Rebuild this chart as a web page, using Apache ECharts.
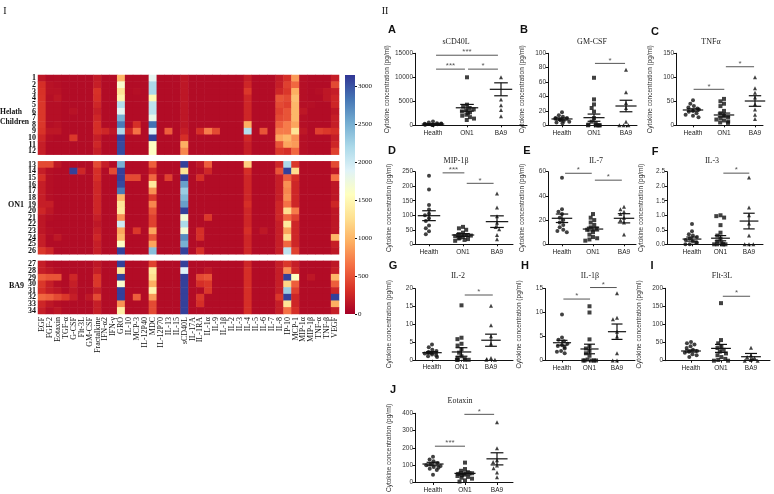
<!DOCTYPE html>
<html>
<head>
<meta charset="utf-8">
<script src="https://cdn.jsdelivr.net/npm/echarts@6.0.0/dist/echarts.min.js"></script>
<style>
  html, body { margin: 0; padding: 0; background: #fff; }
  #main { width: 774px; height: 494px; }
</style>
</head>
<body>
<div id="main"></div>
<script>
// ---- heatmap data ----
const cytokines = ['EGF', 'FGF-2', 'Eotaxin', 'TGF-α', 'G-CSF', 'Flt-3L', 'GM-CSF', 'Fractalkine', 'IFN-α2', 'IFN-γ',
  'GRO', 'IL-10', 'MCP-3', 'IL-12P40', 'MDC', 'IL-12P70', 'IL-13', 'IL-15', 'sCD40L', 'IL-17A',
  'IL-1RA', 'IL-1α', 'IL-9', 'IL-1β', 'IL-2', 'IL-3', 'IL-4', 'IL-5', 'IL-6', 'IL-7',
  'IL-8', 'IP-10', 'MCP-1', 'MIP-1α', 'MIP-1β', 'TNF-α', 'TNF-β', 'VEGF'];
const sampleIds = ['1', '2', '3', '4', '5', '6', '7', '8', '9', '10', '11', '12',
  '13', '14', '15', '16', '17', '18', '19', '20', '21', '22', '23', '24', '25', '26',
  '27', '28', '29', '30', '31', '32', '33', '34'];
const groupSizes = [12, 14, 8];
const heatRows = [
  [150, 80, 90, 80, 80, 80, 80, 180, 80, 80, 1000, 80, 80, 80, 1850, 80, 80, 80, 150, 80, 80, 80, 80, 80, 80, 80, 200, 80, 80, 80, 180, 300, 850, 100, 80, 80, 80, 200],
  [300, 120, 100, 80, 80, 80, 80, 200, 80, 80, 1650, 80, 80, 80, 2200, 80, 80, 80, 150, 80, 80, 80, 80, 80, 80, 80, 250, 80, 80, 80, 200, 400, 600, 100, 80, 80, 80, 450],
  [320, 120, 120, 80, 80, 80, 80, 320, 80, 80, 1300, 80, 100, 80, 2200, 80, 80, 80, 150, 80, 80, 80, 80, 80, 80, 80, 350, 80, 80, 80, 250, 350, 950, 100, 80, 100, 150, 200],
  [330, 100, 150, 80, 80, 80, 80, 300, 80, 80, 1450, 80, 80, 80, 1500, 80, 80, 80, 150, 80, 80, 80, 80, 80, 80, 80, 250, 80, 80, 80, 500, 450, 1050, 100, 80, 80, 150, 250],
  [350, 100, 100, 80, 80, 80, 80, 250, 80, 80, 2150, 80, 80, 80, 2100, 80, 80, 80, 150, 80, 80, 80, 80, 80, 80, 80, 250, 80, 80, 80, 450, 400, 1000, 100, 100, 80, 80, 250],
  [350, 100, 100, 80, 120, 80, 80, 200, 80, 80, 1850, 80, 80, 80, 2100, 80, 80, 80, 150, 80, 80, 80, 80, 80, 80, 80, 250, 80, 80, 80, 400, 500, 1000, 150, 80, 80, 80, 150],
  [350, 100, 100, 80, 80, 80, 80, 250, 80, 80, 2500, 80, 80, 80, 1800, 80, 80, 80, 150, 80, 80, 80, 80, 80, 80, 80, 250, 80, 80, 80, 450, 500, 1000, 100, 80, 80, 80, 200],
  [350, 100, 120, 80, 80, 80, 80, 300, 80, 80, 2800, 80, 300, 80, 2850, 80, 80, 80, 150, 80, 80, 80, 80, 80, 80, 80, 950, 80, 80, 80, 550, 700, 900, 100, 80, 80, 80, 200],
  [330, 150, 150, 80, 80, 80, 80, 300, 250, 150, 2200, 250, 650, 80, 1900, 80, 550, 80, 200, 80, 300, 700, 450, 80, 80, 80, 2150, 80, 500, 80, 700, 700, 1300, 150, 80, 400, 350, 300],
  [250, 100, 80, 80, 350, 80, 80, 200, 80, 80, 3100, 80, 80, 80, 3100, 80, 80, 80, 300, 80, 80, 80, 80, 80, 80, 80, 250, 80, 80, 80, 900, 1000, 800, 100, 80, 80, 80, 200],
  [200, 80, 80, 80, 80, 80, 80, 250, 80, 80, 3050, 80, 80, 80, 1600, 80, 80, 80, 950, 80, 80, 80, 80, 80, 80, 80, 200, 80, 80, 80, 500, 900, 850, 100, 80, 80, 80, 250],
  [200, 80, 80, 80, 80, 80, 80, 200, 80, 80, 3050, 80, 80, 80, 1600, 80, 80, 80, 750, 80, 80, 80, 80, 80, 80, 80, 200, 80, 80, 80, 350, 300, 600, 100, 80, 80, 80, 400],
  [450, 450, 150, 80, 80, 80, 80, 450, 200, 80, 2500, 80, 80, 80, 550, 80, 80, 80, 3100, 80, 150, 550, 80, 80, 80, 80, 1150, 80, 80, 80, 250, 2200, 350, 80, 80, 80, 80, 450],
  [200, 100, 80, 80, 3100, 250, 80, 300, 80, 450, 3100, 80, 80, 80, 250, 80, 80, 80, 1300, 80, 100, 250, 80, 80, 80, 80, 300, 80, 80, 80, 500, 3100, 1250, 80, 80, 80, 80, 150],
  [300, 100, 80, 80, 80, 80, 80, 300, 80, 80, 3100, 450, 450, 80, 600, 80, 400, 80, 3100, 80, 300, 80, 80, 80, 80, 80, 250, 80, 80, 80, 200, 550, 300, 80, 80, 80, 80, 650],
  [200, 100, 80, 80, 80, 80, 80, 250, 80, 80, 3050, 80, 80, 80, 1350, 80, 80, 80, 2600, 80, 80, 80, 80, 80, 80, 80, 250, 80, 80, 80, 200, 800, 250, 80, 80, 80, 80, 150],
  [200, 100, 80, 80, 80, 80, 80, 250, 80, 80, 2800, 80, 80, 80, 800, 80, 80, 80, 2300, 80, 80, 80, 80, 80, 80, 80, 250, 80, 80, 80, 200, 750, 250, 80, 80, 80, 80, 150],
  [200, 100, 80, 80, 80, 80, 80, 250, 80, 80, 1000, 80, 80, 80, 350, 80, 80, 80, 2450, 80, 80, 80, 80, 80, 80, 80, 250, 80, 80, 80, 200, 800, 250, 80, 80, 80, 80, 150],
  [200, 200, 80, 80, 80, 80, 80, 250, 80, 80, 1300, 80, 80, 80, 750, 80, 80, 80, 2600, 80, 80, 80, 80, 80, 80, 80, 300, 80, 80, 80, 250, 650, 250, 80, 80, 80, 80, 250],
  [250, 150, 80, 80, 80, 80, 80, 250, 80, 80, 1350, 80, 80, 80, 500, 80, 80, 80, 3100, 80, 80, 80, 80, 80, 80, 80, 250, 80, 80, 80, 250, 1250, 700, 80, 80, 80, 80, 150],
  [150, 100, 80, 80, 80, 80, 80, 200, 80, 80, 800, 80, 80, 80, 400, 80, 80, 80, 1700, 80, 80, 350, 80, 80, 80, 80, 250, 80, 80, 80, 250, 600, 400, 80, 80, 80, 80, 150],
  [150, 80, 80, 80, 80, 80, 80, 150, 80, 80, 2000, 80, 80, 80, 400, 80, 80, 80, 2200, 80, 80, 80, 80, 80, 80, 80, 250, 80, 80, 80, 200, 1350, 250, 80, 80, 80, 80, 150],
  [150, 100, 80, 80, 80, 80, 80, 200, 80, 80, 900, 80, 350, 80, 900, 80, 80, 80, 1700, 80, 300, 80, 80, 80, 80, 80, 300, 80, 150, 80, 200, 900, 250, 80, 80, 80, 80, 150],
  [200, 80, 150, 80, 80, 80, 80, 250, 80, 80, 1000, 80, 80, 80, 500, 80, 80, 80, 2700, 80, 300, 80, 80, 80, 80, 80, 250, 80, 80, 80, 200, 1250, 250, 80, 80, 80, 80, 1000],
  [200, 80, 80, 80, 80, 80, 80, 200, 80, 80, 1600, 80, 80, 80, 900, 80, 80, 80, 2500, 80, 80, 80, 80, 80, 80, 80, 250, 80, 80, 80, 200, 600, 250, 80, 80, 80, 80, 200],
  [350, 250, 80, 80, 80, 80, 80, 200, 80, 80, 3100, 80, 80, 80, 2400, 80, 80, 80, 3100, 80, 300, 80, 80, 80, 80, 80, 250, 80, 80, 80, 200, 2100, 400, 80, 80, 80, 80, 150],
  [200, 100, 80, 80, 80, 80, 80, 150, 80, 80, 3100, 80, 80, 80, 400, 80, 80, 80, 3100, 80, 80, 80, 80, 80, 80, 80, 250, 80, 80, 80, 200, 350, 200, 80, 80, 80, 80, 150],
  [200, 150, 100, 80, 80, 80, 80, 200, 80, 80, 1350, 80, 80, 80, 1350, 80, 80, 80, 1900, 80, 80, 150, 80, 80, 80, 80, 300, 80, 80, 80, 200, 800, 250, 80, 80, 80, 80, 200],
  [550, 500, 500, 80, 250, 80, 80, 350, 80, 80, 3100, 80, 80, 80, 1250, 80, 80, 80, 3100, 80, 450, 500, 80, 80, 80, 80, 300, 80, 80, 80, 200, 3100, 1600, 80, 150, 80, 80, 1000],
  [350, 200, 100, 80, 200, 80, 80, 350, 80, 80, 1650, 80, 80, 80, 950, 80, 80, 80, 3100, 80, 300, 350, 80, 80, 80, 80, 300, 80, 80, 80, 200, 1200, 550, 80, 80, 80, 80, 550],
  [300, 200, 150, 80, 150, 80, 80, 200, 80, 80, 3100, 80, 80, 80, 1450, 80, 80, 80, 3100, 80, 80, 350, 80, 80, 80, 80, 300, 80, 80, 80, 200, 2300, 400, 80, 80, 80, 80, 250],
  [600, 550, 450, 350, 200, 80, 150, 450, 80, 80, 3100, 80, 550, 80, 850, 80, 80, 80, 3100, 80, 350, 80, 80, 80, 80, 80, 300, 80, 80, 80, 350, 3100, 250, 80, 80, 80, 80, 3100],
  [250, 150, 100, 80, 80, 80, 80, 200, 80, 80, 800, 80, 80, 80, 450, 80, 80, 80, 3100, 80, 300, 80, 80, 80, 80, 80, 300, 80, 80, 80, 200, 1300, 250, 80, 80, 80, 80, 950],
  [200, 100, 150, 80, 80, 80, 80, 200, 80, 80, 1400, 80, 80, 80, 450, 80, 80, 80, 3100, 80, 80, 80, 80, 80, 80, 80, 300, 80, 80, 80, 200, 650, 300, 80, 80, 80, 80, 200]
];
const colorMax = 3150;
const colorTickStep = 500;
const rdYlBu = ['#a50026', '#d73027', '#f46d43', '#fdae61', '#fee090', '#ffffbf', '#e0f3f8', '#abd9e9', '#74add1', '#4575b4', '#313695'];

// ---- dot plot data ----
const groups = ['Health', 'ON1', 'BA9'];
const groupSymbols = ['circle', 'rect', 'triangle'];
const panelTitles = ['sCD40L', 'GM-CSF', 'TNFα', 'MIP-1β', 'IL-7', 'IL-3', 'IL-2', 'IL-1β', 'Flt-3L', 'Eotaxin'];
const panelLetters = ['A', 'B', 'C', 'D', 'E', 'F', 'G', 'H', 'I', 'J'];
const yMax = [15000, 100, 150, 250, 60, 2.5, 20, 15, 200, 400];
const yStep = [5000, 20, 50, 50, 20, 0.5, 5, 5, 50, 100];

const sCD40LPts = [
  [800, 600, 450, 350, 300, 250, 200, 150, 120, 100, 80, 50],
  [10000, 4300, 3900, 3600, 3300, 3100, 2900, 2700, 2500, 2200, 2000, 1700, 1400, 1100],
  [10000, 5400, 4200, 3200, 1900]
];
const gmCsfPts = [
  [18, 14, 12, 10, 10, 9, 8, 7, 6, 5, 4, 3],
  [66, 36, 29, 24, 19, 10, 5, 3, 1, 0, 0, 0, 0, 0],
  [77, 46, 31, 24, 5, 0, 0, 0]
];
const tnfaPts = [
  [52, 45, 40, 37, 35, 33, 30, 28, 25, 22, 20, 17],
  [55, 50, 45, 40, 30, 25, 20, 17, 15, 12, 10, 8, 6, 5],
  [100, 77, 68, 58, 44, 33, 22, 13]
];
const mip1bPts = [
  [236, 189, 135, 120, 105, 100, 90, 80, 65, 55, 45, 35],
  [60, 55, 50, 40, 35, 32, 30, 28, 25, 22, 20, 18, 15, 12],
  [175, 127, 97, 74, 60, 52, 32, 17]
];
const il7Pts = [
  [55, 29, 27, 25, 22, 20, 18, 16, 14, 12, 11, 10],
  [25, 22, 20, 18, 16, 14, 13, 12, 10, 8, 6, 5, 4, 3],
  [31, 29, 27, 25, 22, 20, 18, 8]
];
const il3Pts = [
  [0.7, 0.45, 0.35, 0.3, 0.25, 0.2, 0.15, 0.1, 0.05, 0.05, 0, 0],
  [1.0, 0.97, 0.92, 0.66, 0.4, 0.3, 0.2, 0.1, 0.05, 0, 0, 0, 0, 0],
  [2.3, 1.27, 1.0, 0.72, 0.3, 0, 0, 0]
];
const il2Pts = [
  [4.3, 3.5, 2.8, 2.5, 2.2, 2.0, 2.0, 1.8, 1.5, 1.2, 1.0, 0.8],
  [15.3, 6.2, 5.8, 4.5, 4.0, 3.0, 2.0, 1.0, 0.5, 0.2, 0, 0, 0, 0],
  [15.2, 9.7, 6.6, 4.5, 0.5, 0.2, 0, 0]
];
const il1bPts = [
  [9.6, 4.8, 4.3, 4.0, 3.5, 3.2, 3.0, 2.8, 2.5, 2.0, 1.8, 1.5],
  [11.3, 10.0, 4.4, 3.0, 2.5, 2.0, 1.5, 1.0, 0.2, 0, 0, 0, 0, 0],
  [14.0, 8.9, 8.6, 6.0, 5.0, 1.5, 0, 0]
];
const flt3lPts = [
  [52, 48, 45, 40, 35, 30, 27, 25, 22, 18, 15, 10],
  [159, 57, 48, 40, 35, 30, 25, 20, 15, 10, 5, 2, 0, 0],
  [36, 15, 10, 8, 5, 2, 0, 0]
];
const eotaxinPts = [
  [150, 135, 125, 115, 108, 102, 98, 92, 88, 82, 75, 48],
  [117, 80, 70, 62, 56, 52, 48, 44, 40, 35, 30, 25, 15, 8],
  [348, 200, 131, 120, 100, 85, 60, 33]
];
const panelPoints = [sCD40LPts, gmCsfPts, tnfaPts, mip1bPts, il7Pts, il3Pts, il2Pts, il1bPts, flt3lPts, eotaxinPts];

// mean and SEM per group (Health, ON1, BA9)
const panelMeans = [
  [250, 3650, 7500], [8.8, 10.6, 26.8], [31.9, 21.5, 50.6], [98.5, 32, 78], [21.5, 12.6, 21.5],
  [0.18, 0.21, 0.8], [2.0, 2.2, 5.5], [3.7, 2.4, 6.0], [26.8, 34, 11], [107, 53, 137]
];
const panelSems = [
  [80, 700, 1350], [1.5, 5, 8], [2.5, 4, 11], [17, 5, 20], [3.5, 1.5, 3.8],
  [0.07, 0.09, 0.27], [0.3, 1.2, 1.7], [0.5, 1.0, 1.6], [3, 11, 9], [10, 8, 35]
];
// significance bars: [from, to, height, stars]; from/to in group units (1 = Health)
const panelSig = [
  [[1.09, 2.91, 14600, '***'], [1.09, 1.94, 11700, '***'], [2.03, 2.91, 11700, '*']],
  [[2.03, 2.97, 86, '*']],
  [[1.02, 2.01, 75, '*'], [2.06, 2.97, 122, '*']],
  [[1.4, 2.04, 246, '***'], [2.11, 2.9, 210, '*']],
  [[1.1, 1.96, 58.7, '*'], [2.06, 2.93, 53, '*']],
  [[2.1, 3.01, 2.45, '*']],
  [[2.11, 3.06, 18.2, '*']],
  [[1.05, 2.02, 12.8, '*'], [2.02, 2.99, 15.2, '*']],
  [[2.06, 2.97, 178, '*']],
  [[1.06, 2.0, 210, '***'], [1.98, 2.91, 394, '*']]
];

// ---- layout (pixels) ----
const heatBox = { left: 38, top: 75, width: 301, height: 239 };
const barBox = { left: 345, top: 75, width: 10, height: 239 };
const panelBox = [
  { ax: 415, end: 527, c1: 433, step: 34, top: 53.3, bottom: 125.3, tx: 456, ty: 42, lx: 392, ly: 30 },
  { ax: 548, end: 637, c1: 562, step: 32, top: 53.3, bottom: 125.3, tx: 592, ty: 42, lx: 524, ly: 30 },
  { ax: 676, end: 763, c1: 693, step: 31, top: 53.3, bottom: 125.3, tx: 711, ty: 42, lx: 655, ly: 32 },
  { ax: 415, end: 513, c1: 429, step: 34, top: 171.7, bottom: 244.3, tx: 456, ty: 161, lx: 392, ly: 151 },
  { ax: 548, end: 636, c1: 562, step: 31, top: 171.7, bottom: 244.3, tx: 596, ty: 161, lx: 527, ly: 151 },
  { ax: 667, end: 763, c1: 692, step: 28.5, top: 171.7, bottom: 244.3, tx: 712, ty: 161, lx: 655, ly: 152 },
  { ax: 415, end: 513, c1: 432, step: 29.5, top: 288.6, bottom: 359.8, tx: 458, ty: 276, lx: 393, ly: 266 },
  { ax: 545, end: 635, c1: 562, step: 27.5, top: 288.5, bottom: 360.5, tx: 590, ty: 276, lx: 525, ly: 266 },
  { ax: 665, end: 770, c1: 691, step: 30, top: 288.3, bottom: 360.7, tx: 722, ty: 276, lx: 652, ly: 266 },
  { ax: 415, end: 513, c1: 433, step: 32, top: 413.3, bottom: 485.3, tx: 460, ty: 401, lx: 393, ly: 390 }
];

const SERIF = '"Liberation Serif", "Times New Roman", serif';
const SANS = '"Liberation Sans", Arial, sans-serif';

// heatmap rows with an empty row between groups
const yCats = [];
const rowPos = [];
let k = 0;
groupSizes.forEach((n, g) => {
  if (g > 0) { yCats.push(' '.repeat(g)); }
  for (let i = 0; i < n; i++) { rowPos.push(yCats.length); yCats.push(sampleIds[k]); k++; }
});
const heatData = [];
heatRows.forEach((row, r) => row.forEach((v, c) => heatData.push([c, rowPos[r], v])));

const grid = [], xAxis = [], yAxis = [], series = [], graphic = [];

grid.push({ left: heatBox.left, top: heatBox.top, width: heatBox.width, height: heatBox.height });
xAxis.push({
  type: 'category', data: cytokines, gridIndex: 0, position: 'bottom',
  axisLine: { show: false }, axisTick: { show: false }, splitLine: { show: false },
  axisLabel: { rotate: 90, interval: 0, fontSize: 8, fontFamily: SERIF, color: '#111', margin: 3 }
});
yAxis.push({
  type: 'category', data: yCats, gridIndex: 0, inverse: true,
  axisLine: { show: false }, axisTick: { show: false }, splitLine: { show: false },
  axisLabel: { interval: 0, fontSize: 8, fontFamily: SERIF, fontWeight: 'bold', color: '#111', margin: 2 }
});
series.push({
  type: 'heatmap', xAxisIndex: 0, yAxisIndex: 0, data: heatData, silent: true,
  itemStyle: { borderWidth: 0 }, emphasis: { disabled: true }, progressive: 0
});

// colour bar
grid.push({ left: barBox.left, top: barBox.top, width: barBox.width, height: barBox.height });
xAxis.push({ type: 'category', data: ['scale'], gridIndex: 1, show: false });
yAxis.push({
  type: 'value', gridIndex: 1, position: 'right', min: 0, max: colorMax, interval: colorTickStep,
  axisLine: { show: false }, splitLine: { show: false },
  axisTick: { show: true, length: 2, lineStyle: { color: '#111' } },
  axisLabel: { fontSize: 7, fontFamily: SERIF, color: '#111', margin: 3, showMaxLabel: false, formatter: v => String(v) }
});
series.push({
  type: 'bar', xAxisIndex: 1, yAxisIndex: 1, data: [colorMax], barWidth: '100%', silent: true,
  itemStyle: {
    color: new echarts.graphic.LinearGradient(0, 1, 0, 0,
      rdYlBu.map((c, i) => ({ offset: i / (rdYlBu.length - 1), color: c })))
  }
});

function meanItem(params, api) {
  const x = api.value(0), m = api.value(1), s = api.value(2);
  const c = api.coord([x, m]), hi = api.coord([x, m + s]), lo = api.coord([x, m - s]);
  const u = api.size([1, 0])[0];
  const st = { stroke: '#111', lineWidth: 1.2 };
  return {
    type: 'group', children: [
      { type: 'line', shape: { x1: c[0] - 0.33 * u, y1: c[1], x2: c[0] + 0.33 * u, y2: c[1] }, style: st },
      { type: 'line', shape: { x1: c[0], y1: hi[1], x2: c[0], y2: lo[1] }, style: st },
      { type: 'line', shape: { x1: c[0] - 0.2 * u, y1: hi[1], x2: c[0] + 0.2 * u, y2: hi[1] }, style: st },
      { type: 'line', shape: { x1: c[0] - 0.2 * u, y1: lo[1], x2: c[0] + 0.2 * u, y2: lo[1] }, style: st }
    ]
  };
}

panelBox.forEach((b, p) => {
  const fi = grid.length, di = fi + 1;
  const h = b.bottom - b.top;
  grid.push({ left: b.ax, top: b.top, width: b.end - b.ax, height: h });
  grid.push({ left: b.c1 - b.step / 2, top: b.top, width: b.step * 3, height: h });
  const yLab = { fontSize: 6.5, fontFamily: SANS, color: '#333', margin: 2 };
  yLab.formatter = yStep[p] < 1 ? (v => v.toFixed(1)) : (v => String(v));
  // frame axes
  xAxis.push({
    type: 'value', gridIndex: fi,
    min: (b.ax - b.c1) / b.step + 1, max: (b.end - b.c1) / b.step + 1,
    axisLine: { show: true, lineStyle: { color: '#111', width: 1 } },
    axisTick: { show: false }, axisLabel: { show: false }, splitLine: { show: false }
  });
  yAxis.push({
    type: 'value', gridIndex: fi, min: 0, max: yMax[p], interval: yStep[p],
    name: 'Cytokine concentration (pg/ml)', nameLocation: 'middle', nameGap: 22,
    nameTextStyle: { fontSize: 6.5, fontFamily: SANS, color: '#333' },
    axisLine: { show: true, lineStyle: { color: '#111', width: 1 } },
    axisTick: { show: true, length: 2.5, lineStyle: { color: '#111' } },
    axisLabel: yLab, splitLine: { show: false }
  });
  // data axes
  xAxis.push({
    type: 'category', gridIndex: di, data: groups, boundaryGap: true,
    jitter: b.step * 0.5, jitterOverlap: false, jitterMargin: 0.3,
    axisLine: { show: false },
    axisTick: { show: true, alignWithLabel: true, length: 2, lineStyle: { color: '#111' } },
    axisLabel: { fontSize: 6.5, fontFamily: SANS, color: '#222', margin: 4 }
  });
  yAxis.push({ type: 'value', gridIndex: di, min: 0, max: yMax[p], show: false });

  const fx = xAxis.length - 2, dx = xAxis.length - 1;
  const pts = [];
  panelPoints[p].forEach((arr, g) => arr.forEach(v => pts.push([g, v])));
  series.push({
    type: 'scatter', xAxisIndex: dx, yAxisIndex: dx, data: pts, silent: true,
    symbol: v => groupSymbols[v[0]], symbolSize: 4,
    itemStyle: { color: '#111' }, clip: false, z: 2
  });
  series.push({
    type: 'custom', xAxisIndex: fx, yAxisIndex: fx, silent: true, clip: false, z: 3,
    data: panelMeans[p].map((m, g) => [g + 1, m, panelSems[p][g]]),
    encode: { x: 0, y: 1 }, renderItem: meanItem
  });
  const sig = panelSig[p];
  series.push({
    type: 'custom', xAxisIndex: fx, yAxisIndex: fx, silent: true, clip: false, z: 3,
    data: sig.map(s => [s[0], s[1], s[2]]), encode: { x: [0, 1], y: 2 },
    renderItem: (params, api) => {
      const s = sig[params.dataIndex];
      const a = api.coord([s[0], s[2]]), e = api.coord([s[1], s[2]]);
      return {
        type: 'group', children: [
          { type: 'line', shape: { x1: a[0], y1: a[1], x2: e[0], y2: a[1] }, style: { stroke: '#555', lineWidth: 1 } },
          { type: 'text', x: (a[0] + e[0]) / 2, y: a[1] + 1,
            style: { text: s[3], fill: '#555', font: '8px ' + SANS, textAlign: 'center', textVerticalAlign: 'bottom' } }
        ]
      };
    }
  });
  graphic.push({ type: 'text', x: b.tx, y: b.ty, silent: true,
    style: { text: panelTitles[p], fill: '#222', font: '8px ' + SERIF, textAlign: 'center', textVerticalAlign: 'middle' } });
  graphic.push({ type: 'text', x: b.lx, y: b.ly, silent: true,
    style: { text: panelLetters[p], fill: '#111', font: 'bold 11px ' + SANS, textAlign: 'center', textVerticalAlign: 'middle' } });
});

// section and group labels
const textLabels = [
  { t: 'I', x: 5, y: 11, f: '10px ' + SERIF, a: 'center' },
  { t: 'II', x: 385, y: 11, f: '10px ' + SERIF, a: 'center' },
  { t: 'Helath', x: 0, y: 112, f: 'bold 7.6px ' + SERIF, a: 'left' },
  { t: 'Children', x: 0, y: 122, f: 'bold 7.6px ' + SERIF, a: 'left' },
  { t: 'ON1', x: 24, y: 205, f: 'bold 8px ' + SERIF, a: 'right' },
  { t: 'BA9', x: 24, y: 286, f: 'bold 8px ' + SERIF, a: 'right' }
];
textLabels.forEach(l => graphic.push({ type: 'text', x: l.x, y: l.y, silent: true,
  style: { text: l.t, fill: '#111', font: l.f, textAlign: l.a, textVerticalAlign: 'middle' } }));

const chart = echarts.init(document.getElementById('main'));
chart.setOption({
  backgroundColor: '#fff',
  animation: false,
  grid, xAxis, yAxis, series, graphic,
  visualMap: {
    type: 'continuous', show: false, min: 0, max: colorMax, dimension: 2, seriesIndex: 0,
    inRange: { color: rdYlBu }
  }
});
window.addEventListener('resize', () => chart.resize());
</script>
</body>
</html>
